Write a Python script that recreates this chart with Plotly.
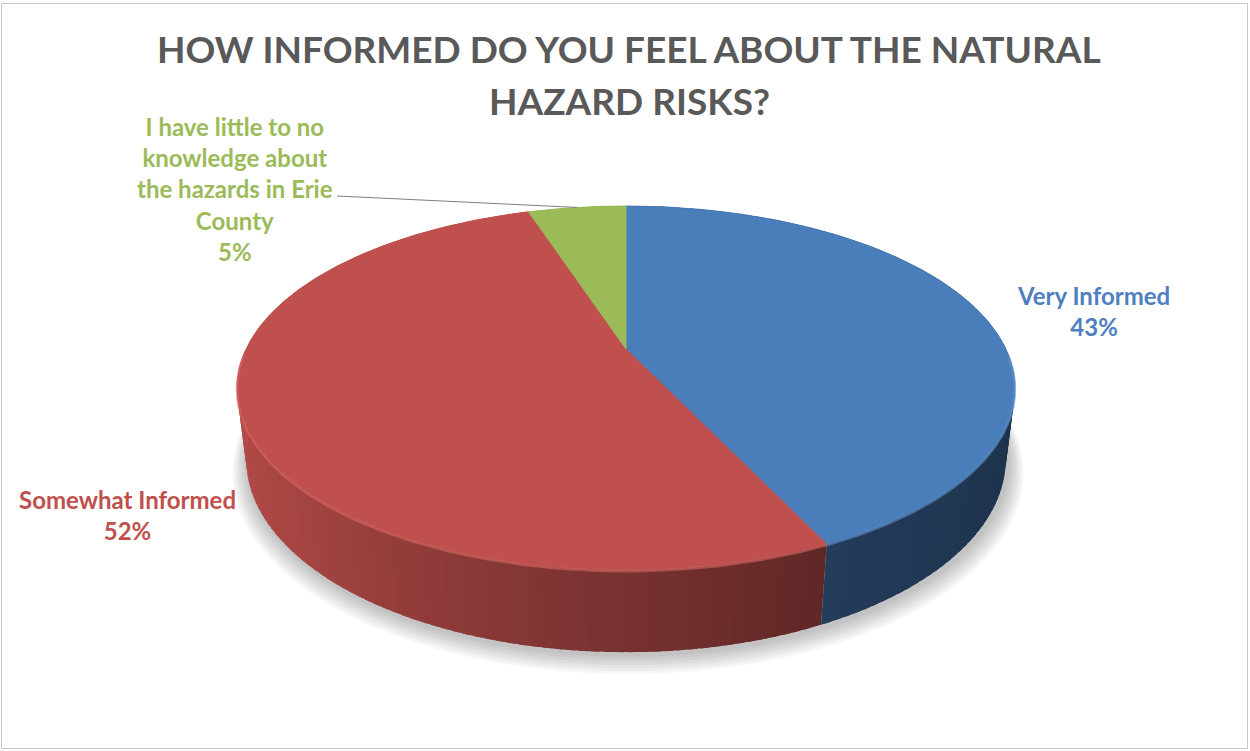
import numpy as np
import plotly.graph_objects as go

# ---- data -------------------------------------------------------------
categories = [
    "Very Informed",
    "Somewhat Informed",
    "I have little to no knowledge about the hazards in Erie County",
]
values = [43, 52, 5]
label_lines = [
    "Very Informed",
    "Somewhat Informed",
    "I have little to no<br>knowledge about<br>the hazards in Erie<br>County",
]
title_lines = ["HOW INFORMED DO YOU FEEL ABOUT THE NATURAL", "HAZARD RISKS?"]

# ---- styling ----------------------------------------------------------
top_rgb = [(74, 126, 187), (192, 80, 77), (155, 187, 89)]
label_colors = ["#4f7fc0", "#c0504d", "#9bbb59"]
label_pos = [(1093, 311), (127, 515), (235, 189)]
leader_start = (337, 196)
FONT = "Lato"

W, H = 1250, 751

# ---- 3-D pie view geometry (perspective projection) --------------------
TILT = np.radians(27.2)
DIST = 4.153
FOCAL = 1578.0
THICK = 0.212
CX, CY = 626.0, 349.0


def project(theta_deg, level):
    """theta clockwise from the back of the disc; level 0 = top face, 1 = bottom."""
    t = np.radians(np.asarray(theta_deg, dtype=float))
    y3 = -THICK * level
    depth = DIST - y3 * np.sin(TILT) + np.cos(t) * np.cos(TILT)
    px = CX + FOCAL * np.sin(t) / depth
    py = CY - FOCAL * (y3 * np.cos(TILT) + np.cos(t) * np.sin(TILT)) / depth
    return px, py


def rgb(c, f=1.0, mix_white=0.0):
    r, g, b = [min(255, max(0, v * f)) for v in c]
    r, g, b = [v + (255 - v) * mix_white for v in (r, g, b)]
    return f"rgb({int(r)},{int(g)},{int(b)})"


# side-wall brightness as a function of the wall's facing angle
shade_theta = [0, 60, 120, 150, 165, 195, 230, 260, 300, 360]
shade_fact = [0.40, 0.40, 0.42, 0.47, 0.55, 0.70, 0.87, 0.95, 0.95, 0.95]

total = float(sum(values))
ends = np.cumsum(values) / total * 360.0
starts = np.concatenate([[0.0], ends[:-1]])

fig = go.Figure()


def poly(xs, ys, color):
    fig.add_trace(go.Scatter(
        x=list(xs), y=list(ys), mode="lines", fill="toself",
        fillcolor=color, line=dict(width=0, color=color),
        hoverinfo="skip", showlegend=False))


# soft drop shadow beneath the disc
ring = np.linspace(0, 360, 181)
bx, by = project(ring, 1.0)
for k in range(7, 0, -1):
    s = 1.0 + 0.006 * k
    poly(CX + (bx - CX) * s + 2, CY + (by - CY) * s + 2 + k,
         "rgba(0,0,0,0.035)")

# side walls, split into narrow overlapping shaded strips
for a0, a1, c in zip(starts, ends, top_rgb):
    n = max(2, int(np.ceil((a1 - a0) / 1.5)))
    edges = np.linspace(a0, a1, n + 1)
    for e0, e1 in zip(edges[:-1], edges[1:]):
        th = np.linspace(e0, min(e1 + 1.0, a1), 4)
        tx, ty = project(th, 0.0)
        ux, uy = project(th[::-1], 1.0)
        f = np.interp((e0 + e1) / 2, shade_theta, shade_fact)
        poly(list(tx) + list(ux), list(ty) + list(uy), rgb(c, f))

# top faces
for a0, a1, c, name, v in zip(starts, ends, top_rgb, categories, values):
    th = np.linspace(a0, a1, max(3, int((a1 - a0) * 2)))
    tx, ty = project(th, 0.0)
    fig.add_trace(go.Scatter(
        x=[CX] + list(tx) + [CX], y=[CY] + list(ty) + [CY], mode="lines",
        fill="toself", fillcolor=rgb(c), line=dict(width=0.8, color=rgb(c)),
        name=name, hovertemplate=f"{name}: {v}%<extra></extra>",
        showlegend=False))

# bevel highlight along the front rim
for a0, a1, c in zip(starts, ends, top_rgb):
    lo, hi = max(a0, 92.0), min(a1, 268.0)
    if hi <= lo:
        continue
    th = np.linspace(lo, hi, 120)
    tx, ty = project(th, 0.0)
    fig.add_trace(go.Scatter(
        x=tx, y=ty + 1.2, mode="lines",
        line=dict(width=2.5, color=rgb(c, 1.08, 0.10)), opacity=0.6,
        hoverinfo="skip", showlegend=False))

# leader line for the small slice
mid = (starts[2] + ends[2]) / 2
lx, ly = project(mid, 0.0)
fig.add_trace(go.Scatter(
    x=[leader_start[0], float(lx)], y=[leader_start[1], float(ly)],
    mode="lines", line=dict(width=1, color="#7f7f7f"),
    hoverinfo="skip", showlegend=False))

# data labels
annotations = []
for txt, v, col, (x, y) in zip(label_lines, values, label_colors, label_pos):
    annotations.append(dict(
        x=x, y=y, xref="x", yref="y", showarrow=False,
        text=f"<b>{txt}<br>{v}%</b>", align="center",
        font=dict(family=FONT, size=24, color=col)))

# title (two lines)
for i, line in enumerate(title_lines):
    annotations.append(dict(
        x=629, y=48 + 52 * i, xref="x", yref="y", showarrow=False,
        text=f"<b>{line}</b>",
        font=dict(family=FONT, size=37, color="#595959")))

fig.update_layout(
    width=W, height=H,
    margin=dict(l=0, r=0, t=0, b=0),
    paper_bgcolor="white", plot_bgcolor="white",
    xaxis=dict(range=[0, W], visible=False, fixedrange=True),
    yaxis=dict(range=[H, 0], visible=False, fixedrange=True),
    annotations=annotations,
    shapes=[dict(type="rect", xref="x", yref="y", x0=1.5, y0=3.5,
                 x1=W - 2.5, y1=H - 2.5,
                 line=dict(color="#c8c8c8", width=1))],
    showlegend=False,
)

fig.write_html("out.html")
